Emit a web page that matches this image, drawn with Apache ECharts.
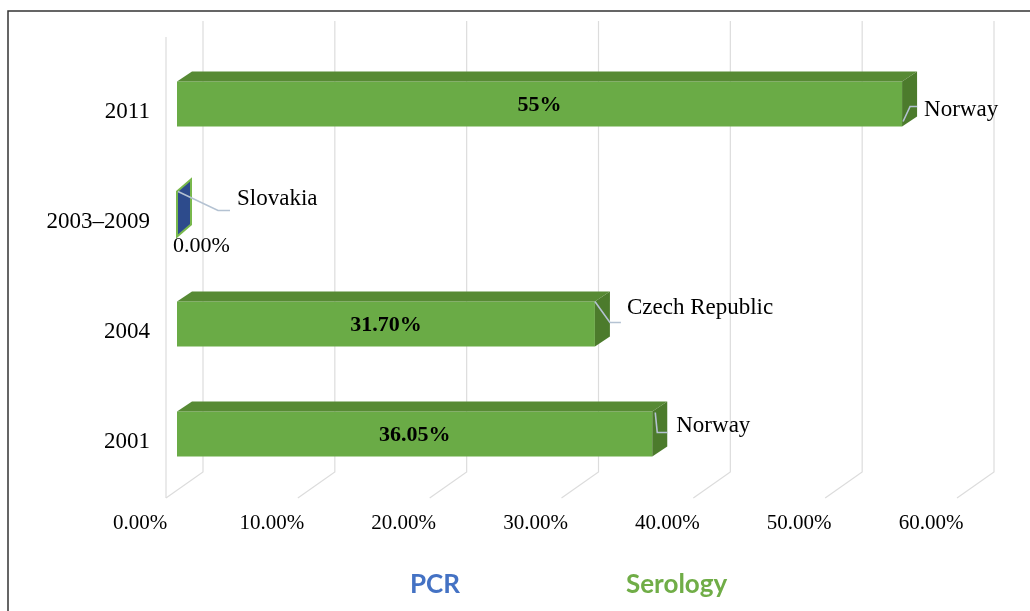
<!DOCTYPE html>
<html>
<head>
<meta charset="utf-8">
<script src="https://cdn.jsdelivr.net/npm/echarts@6/dist/echarts.min.js"></script>
<style>
  html, body { margin: 0; padding: 0; background: #fff; }
  #chart { width: 1030px; height: 611px; }
</style>
</head>
<body>
<div id="chart"></div>
<script>
// data
const years = ['2001', '2004', '2003–2009', '2011'];
const serology = [36.05, 31.70, null, 55];
const pcr = [null, null, 0, null];
const countries = ['Norway', 'Czech Republic', 'Slovakia', 'Norway'];
const valueLabels = ['36.05%', '31.70%', '0.00%', '55%'];
const ticks = [0, 10, 20, 30, 40, 50, 60];

// leader line offsets per category (label placement, relative to bar end / front top)
const leaderOffsets = [
  { s: [3, 1], c: [5, 21], e: [15, 21], t: [24, 14] },
  { s: [0, 0], c: [15, 21], e: [26, 21], t: [32, 6] },
  { s: [1, 0], c: [41, 19], e: [53, 19], t: [60, 7] },
  { s: [1, 40], c: [8, 25], e: [15, 25], t: [22, 28] }
];

const DX = 15, DY = 10, BAR_H = 45, SHIFT = -8;
const serifFont = 'Liberation Serif';

const chart = echarts.init(document.getElementById('chart'));

function bar3d(colors) {
  return function (params, api) {
    const v = api.value(0);
    const idx = api.value(1);
    const start = api.coord([0, idx]);
    const end = api.coord([v, idx]);
    const x0 = start[0], x1 = end[0];
    const cy = end[1] + SHIFT;
    const top = cy - BAR_H / 2, bot = cy + BAR_H / 2;
    const dy = v === 0 ? 12 : DY;
    const children = [];
    if (v > 0) {
      children.push({
        type: 'rect',
        shape: { x: x0, y: top, width: x1 - x0, height: BAR_H },
        style: { fill: colors.front }
      });
      children.push({
        type: 'polygon',
        shape: { points: [[x0, top], [x0 + DX, top - dy], [x1 + DX, top - dy], [x1, top]] },
        style: { fill: colors.top }
      });
      children.push({
        type: 'polygon',
        shape: { points: [[x1, top], [x1 + DX, top - dy], [x1 + DX, bot - dy], [x1, bot]] },
        style: { fill: colors.side }
      });
      children.push({
        type: 'text',
        style: {
          x: (x0 + x1) / 2, y: cy + 1, text: valueLabels[idx],
          align: 'center', verticalAlign: 'middle',
          font: 'bold 22px "' + serifFont + '"', fill: '#000'
        }
      });
    } else {
      children.push({
        type: 'polygon',
        shape: { points: [[x1, top], [x1 + DX - 1, top - dy], [x1 + DX - 1, bot - dy], [x1, bot]] },
        style: { fill: colors.side, stroke: colors.edge, lineWidth: 2 }
      });
      children.push({
        type: 'text',
        style: {
          x: x1 - 4, y: bot + 10, text: valueLabels[idx],
          align: 'left', verticalAlign: 'middle',
          font: '22px "' + serifFont + '"', fill: '#000'
        }
      });
    }
    const o = leaderOffsets[idx];
    children.push({
      type: 'polyline',
      shape: { points: [[x1 + o.s[0], top + o.s[1]], [x1 + o.c[0], top + o.c[1]], [x1 + o.e[0], top + o.e[1]]] },
      style: { stroke: '#b4c2d2', lineWidth: 1.6, fill: null }
    });
    children.push({
      type: 'text',
      style: {
        x: x1 + o.t[0], y: top + o.t[1], text: countries[idx],
        align: 'left', verticalAlign: 'middle',
        font: '23px "' + serifFont + '"', fill: '#000'
      }
    });
    return { type: 'group', children: children };
  };
}

function gridLines(params, api) {
  const cs = params.coordSys;
  const x = api.coord([api.value(0), 0])[0];
  const gTop = cs.y, gBot = cs.y + cs.height;
  const children = [{
    type: 'polyline',
    shape: { points: [[x + 26, gTop - 36], [x + 26, gBot - 25], [x - 11, gBot + 1]] },
    style: { stroke: '#dcdcdc', lineWidth: 1.2, fill: null }
  }];
  if (api.value(0) === 0) {
    children.push({
      type: 'line',
      shape: { x1: x - 11, y1: gTop - 20, x2: x - 11, y2: gBot + 1 },
      style: { stroke: '#dcdcdc', lineWidth: 1.2 }
    });
  }
  return { type: 'group', children: children };
}

const option = {
  backgroundColor: '#fff',
  animation: false,
  graphic: [{
    type: 'rect',
    shape: { x: 8, y: 11, width: 1040, height: 620 },
    style: { fill: null, stroke: '#333', lineWidth: 1.5 },
    z: 100
  }],
  legend: {
    left: 400,
    top: 567,
    icon: 'none',
    itemWidth: 0,
    itemGap: 161,
    selectedMode: false,
    data: [
      { name: 'PCR', textStyle: { color: '#4472c4' } },
      { name: 'Serology', textStyle: { color: '#70ad47' } }
    ],
    textStyle: { fontFamily: 'Lato', fontWeight: 'bold', fontSize: 26 }
  },
  grid: [
    { left: 177, width: 791, top: 57, height: 440 },
    { left: 140, width: 791, top: 57, height: 440 }
  ],
  xAxis: [
    {
      type: 'value', gridIndex: 0, min: 0, max: 60, interval: 10,
      axisLine: { show: false }, axisTick: { show: false },
      axisLabel: { show: false }, splitLine: { show: false }
    },
    {
      type: 'value', gridIndex: 1, min: 0, max: 60, interval: 10,
      axisLine: { show: false }, axisTick: { show: false }, splitLine: { show: false },
      axisLabel: {
        margin: 16,
        formatter: v => v.toFixed(2) + '%',
        fontFamily: serifFont, fontSize: 21, color: '#000'
      }
    }
  ],
  yAxis: [
    {
      type: 'category', gridIndex: 0, data: years,
      axisLine: { show: false }, axisTick: { show: false }, splitLine: { show: false },
      axisLabel: { margin: 27, fontFamily: serifFont, fontSize: 23, color: '#000' }
    },
    {
      type: 'category', gridIndex: 1, data: years, show: false
    }
  ],
  series: [
    {
      name: 'grid',
      type: 'custom',
      silent: true,
      z: 1,
      xAxisIndex: 0, yAxisIndex: 0,
      renderItem: gridLines,
      data: ticks.map(t => [t, 0])
    },
    {
      name: 'PCR',
      type: 'custom',
      color: '#4472c4',
      z: 2,
      xAxisIndex: 0, yAxisIndex: 0,
      renderItem: bar3d({ front: '#2f4f8f', top: '#70ad47', side: '#2d4b8c', edge: '#78b84c' }),
      data: pcr.map((v, i) => [v, i]).filter(d => d[0] !== null)
    },
    {
      name: 'Serology',
      type: 'custom',
      color: '#70ad47',
      z: 2,
      xAxisIndex: 0, yAxisIndex: 0,
      renderItem: bar3d({ front: '#6aab46', top: '#578a34', side: '#4c7b2c' }),
      data: serology.map((v, i) => [v, i]).filter(d => d[0] !== null)
    }
  ]
};

chart.setOption(option);
</script>
</body>
</html>
